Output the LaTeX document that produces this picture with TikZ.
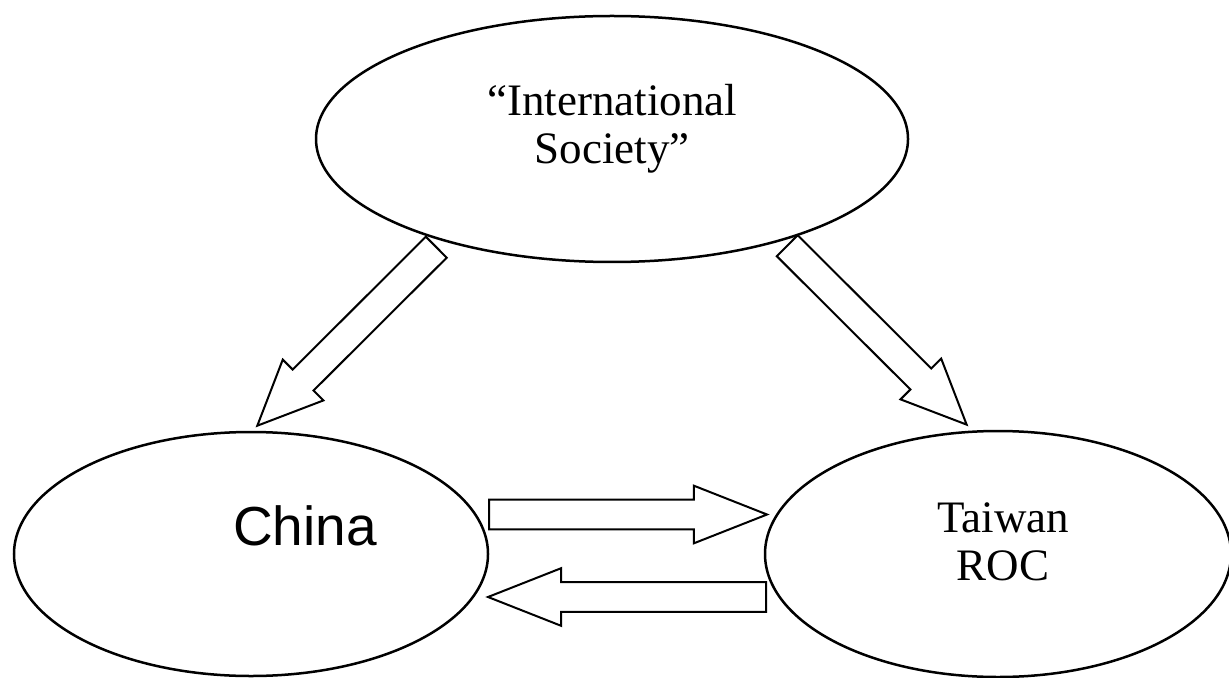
\documentclass[tikz,border=0pt]{standalone}
\usepackage{fontspec}
\setmainfont{Liberation Serif}
\newfontfamily\chinafont{Liberation Sans}
\usetikzlibrary{shapes.geometric,shapes.arrows}

\begin{document}
\begin{tikzpicture}[x=0.5pt,y=-0.5pt,
		bubble/.style={draw=black, line width=1.25pt, ellipse, inner sep=0pt},
		bubbletext/.style={font=\fontsize{22.5}{24}\selectfont, align=center},
		bigarrow/.style={draw=black, line width=1pt, fill=white, single arrow, inner xsep=0pt, inner ysep=6.9pt, single arrow head extend=7pt, sloped, allow upside down, pos=0, anchor=tail}]
		\useasboundingbox (0,0) rectangle (1229,678);
		% the three parties
		\node[bubble, minimum width=296pt, minimum height=123pt] (intl) at (612,139) {};
		\node[bubbletext] (intltext) at (612,129) {“International\\Society”};
		\node[bubble, minimum width=237pt, minimum height=122pt] (china) at (251,554) {};
		\node[font=\chinafont\fontsize{27.5}{30}\selectfont, anchor=base] (chinatext) at (305,545) {China};
		\node[bubble, minimum width=233pt, minimum height=123pt] (taiwan) at (998,554) {};
		\node[bubbletext] (taiwantext) at (1003,542) {Taiwan\\ROC};

		% ends of the block arrows
		\coordinate (t1) at (437,246.5);
		\coordinate (h1) at (258,425);
		\coordinate (t2) at (786.5,245);
		\coordinate (h2) at (966,424);
		\coordinate (t3) at (488,514.5);
		\coordinate (h3) at (766,514.5);
		\coordinate (t4) at (767,597);
		\coordinate (h4) at (489,597);

		\path (t1) -- (h1) node[bigarrow, single arrow tip angle=48, minimum height=126.4pt] (down1) {};
		\path (t2) -- (h2) node[bigarrow, single arrow tip angle=48, minimum height=126.7pt] (down2) {};
		\path (t3) -- (h3) node[bigarrow, single arrow tip angle=43, minimum height=139pt] (right1) {};
		\path (t4) -- (h4) node[bigarrow, single arrow tip angle=43, minimum height=139pt] (left1) {};
	\end{tikzpicture}
\end{document}
